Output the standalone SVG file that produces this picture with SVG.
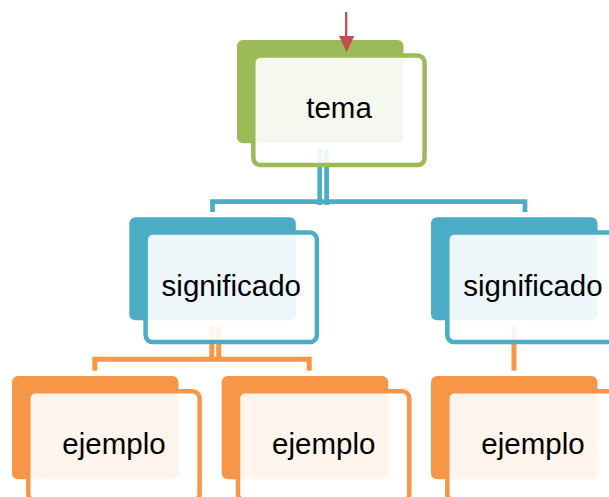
<svg xmlns="http://www.w3.org/2000/svg" width="609" height="497" viewBox="0 0 609 497">
<defs>
<style>
.back{stroke:none}
.front{fill:#ffffff;fill-opacity:0.9;stroke-width:4.5}
.lbl{font-family:"Liberation Sans",Arial,sans-serif;font-size:29.5px;fill:#000;text-anchor:middle}
.g .back{fill:#9bbb59}.g .front{stroke:#9bbb59}
.b .back{fill:#4bacc6}.b .front{stroke:#4bacc6}
.o .back{fill:#f79646}.o .front{stroke:#f79646}
.cb{fill:none;stroke:#4bacc6;stroke-width:4.7}
.co{fill:none;stroke:#f79646;stroke-width:5}
</style>
</defs>
<rect width="609" height="497" fill="#ffffff"/>
<g id="connectors">
<line class="cb" x1="319.7" y1="149" x2="319.7" y2="205"/>
<line class="cb" x1="326.6" y1="149" x2="326.6" y2="205"/>
<path class="cb" d="M212.5 212 V201.7 H525 V212"/>
<line class="co" x1="211.8" y1="326" x2="211.8" y2="361"/>
<line class="co" x1="218.7" y1="326" x2="218.7" y2="361"/>
<path class="co" d="M94.8 370.7 V359.2 H309.2 V370.7"/>
<line class="co" x1="514" y1="326" x2="514" y2="370.7" stroke-width="5.3"/>
</g>
<g id="node-tema" class="g">
<rect class="back" x="237" y="40" width="166.5" height="103.3" rx="6"/>
<rect class="front" x="253.3" y="55.5" width="171.3" height="109.6" rx="7"/>
<text class="lbl" x="339" y="118">tema</text>
</g>
<g id="node-significado-1" class="b">
<rect class="back" x="129.3" y="217.3" width="166.5" height="103" rx="6"/>
<rect class="front" x="145.6" y="232.5" width="171.3" height="109.6" rx="7"/>
<text class="lbl" x="231.3" y="296">significado</text>
</g>
<g id="node-significado-2" class="b">
<rect class="back" x="431" y="217.3" width="166.5" height="103" rx="6"/>
<rect class="front" x="447.3" y="232.5" width="171.3" height="109.6" rx="7"/>
<text class="lbl" x="533" y="296">significado</text>
</g>
<g id="node-ejemplo-1" class="o">
<rect class="back" x="12" y="376" width="166.5" height="103.3" rx="6"/>
<rect class="front" x="28.3" y="391.3" width="171.3" height="109.6" rx="7"/>
<text class="lbl" x="114" y="454">ejemplo</text>
</g>
<g id="node-ejemplo-2" class="o">
<rect class="back" x="221.7" y="376" width="166.5" height="103.3" rx="6"/>
<rect class="front" x="238" y="391.3" width="171.3" height="109.6" rx="7"/>
<text class="lbl" x="323.7" y="454">ejemplo</text>
</g>
<g id="node-ejemplo-3" class="o">
<rect class="back" x="431" y="376" width="166.5" height="103.3" rx="6"/>
<rect class="front" x="447.3" y="391.3" width="171.3" height="109.6" rx="7"/>
<text class="lbl" x="533" y="454">ejemplo</text>
</g>
<g id="connector-input">
<line x1="346.2" y1="12" x2="346.2" y2="38" stroke="#c0504d" stroke-width="2.3"/>
<polygon points="339,36 354.3,36 346.6,52.3" fill="#c0504d"/>
</g>
</svg>
